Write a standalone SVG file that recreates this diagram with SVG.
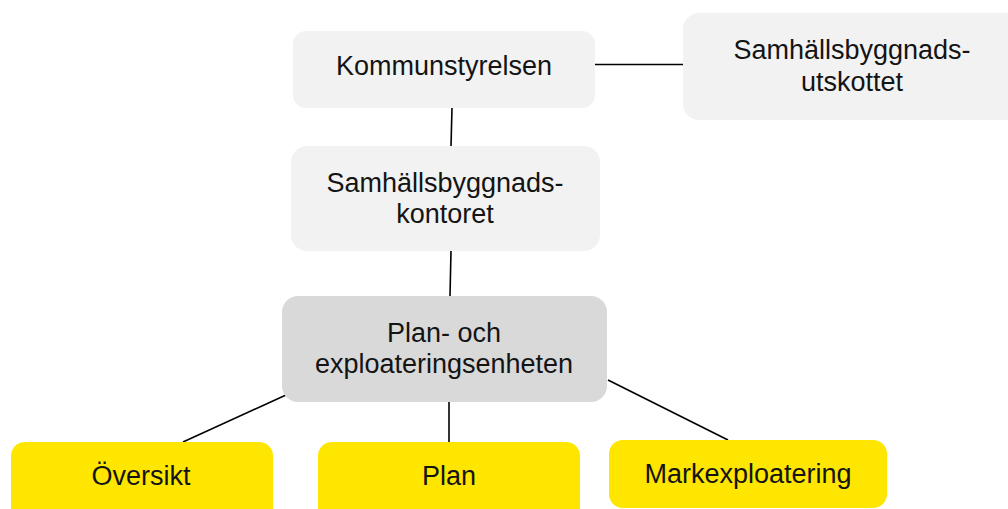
<svg xmlns="http://www.w3.org/2000/svg" width="1008" height="509" viewBox="0 0 1008 509">
<style>
.light{fill:#f2f2f2}
.mid{fill:#d9d9d9}
.yel{fill:#ffe600}
text{font-family:"Liberation Sans",Arial,sans-serif;font-size:27px;fill:#141414;text-anchor:middle}
.conn line{stroke:#000;stroke-width:1.6}
</style>
<rect width="1008" height="509" fill="#fff"/>
<g class="conn">
<line x1="595" y1="64.5" x2="683" y2="64.5"/>
<line x1="452" y1="108" x2="451" y2="146"/>
<line x1="451" y1="251" x2="450" y2="296"/>
<line x1="286" y1="395" x2="183" y2="442"/>
<line x1="449" y1="402" x2="449" y2="442"/>
<line x1="608" y1="380" x2="728" y2="440"/>
</g>
<g id="kommunstyrelsen">
<rect class="light" x="293" y="31" width="302" height="77" rx="13"/>
<text x="444" y="75">Kommunstyrelsen</text>
</g>
<g id="utskottet">
<rect class="light" x="683" y="13" width="340" height="107" rx="16"/>
<text x="852" y="59">Samhällsbyggnads-</text>
<text x="852" y="91">utskottet</text>
</g>
<g id="kontoret">
<rect class="light" x="291" y="146" width="309" height="105" rx="16"/>
<text x="445" y="192">Samhällsbyggnads-</text>
<text x="445" y="223">kontoret</text>
</g>
<g id="planenheten">
<rect class="mid" x="282" y="296" width="325" height="106" rx="16"/>
<text x="444" y="342">Plan- och</text>
<text x="444" y="373">exploateringsenheten</text>
</g>
<g id="oversikt">
<rect class="yel" x="11" y="442" width="262" height="90" rx="14"/>
<text x="141" y="485">Översikt</text>
</g>
<g id="plan">
<rect class="yel" x="318" y="442" width="262" height="90" rx="14"/>
<text x="449" y="485">Plan</text>
</g>
<g id="markexploatering">
<rect class="yel" x="609" y="440" width="278" height="68" rx="14"/>
<text x="748" y="483">Markexploatering</text>
</g>
</svg>
